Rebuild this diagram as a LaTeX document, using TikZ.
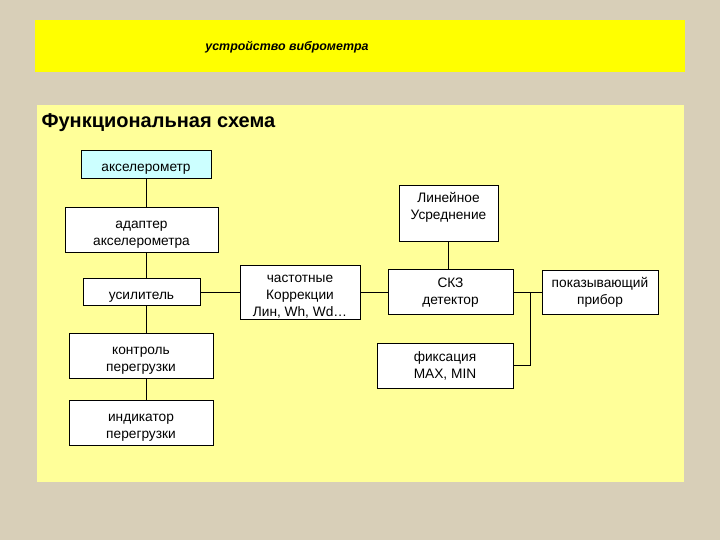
\documentclass[tikz,border=0pt]{standalone}
\usepackage{fontspec}
\setmainfont{Liberation Sans}
\usetikzlibrary{positioning}
\definecolor{bgbeige}{RGB}{216,207,184}
\definecolor{banneryellow}{RGB}{255,255,0}
\definecolor{panelyellow}{RGB}{255,255,153}
\definecolor{accelcyan}{RGB}{204,255,255}
\newcommand{\lowtext}[2][-4pt]{\raisebox{#1}[\height][\depth]{\begin{tabular}{@{}c@{}}#2\end{tabular}}}

\begin{document}
\begin{tikzpicture}[
    x=1pt, y=-1pt,
    font=\fontsize{13.7}{17}\selectfont,
    blk/.style={draw, fill=white, inner sep=0pt, line width=0.8pt},
    wire/.style={line width=0.8pt},
]
    % background and panels
    \fill[bgbeige] (0,0) rectangle (720,540);
    \fill[banneryellow] (35,20) rectangle (685,72);
    \fill[panelyellow] (37,105) rectangle (684,482);
    \node (banner) at (287,47) {\fontsize{12.4}{15}\selectfont\bfseries\itshape устройство виброметра};
    \node[anchor=west] (title) at (38,123) {\fontsize{20}{24}\selectfont\bfseries Функциональная схема};
    % left column
    \node[blk, fill=accelcyan, minimum width=130, minimum height=28] (accel) at (146,164) {\lowtext{акселерометр}};
    \node[blk, minimum width=153, minimum height=45] (adapter) at (141.5,229.5) {\lowtext{адаптер\\акселерометра}};
    \node[blk, minimum width=117, minimum height=27] (amp) at (141.5,292) {\lowtext{усилитель}};
    \node[blk, minimum width=144, minimum height=45] (ovlctrl) at (141,355.5) {\lowtext{контроль\\перегрузки}};
    \node[blk, minimum width=144, minimum height=45] (ovlind) at (141,422.5) {\lowtext{индикатор\\перегрузки}};
    % signal chain
    \node[blk, minimum width=120, minimum height=54] (freqcorr) at (300,292) {\lowtext{частотные\\Коррекции\\Лин, Wh, Wd…}};
    \node[blk, minimum width=99, minimum height=56] (linavg) at (448.5,213) {\lowtext[5pt]{Линейное\\Усреднение}};
    \node[blk, minimum width=125, minimum height=45] (rms) at (450.5,292) {\lowtext[-1pt]{СКЗ\\детектор}};
    \node[blk, minimum width=116, minimum height=44] (display) at (600,292) {\lowtext[-1pt]{показывающий\\прибор}};
    \node[blk, minimum width=136, minimum height=45] (hold) at (445,365.5) {\lowtext[-1pt]{фиксация\\MAX, MIN}};
    \coordinate (tap) at (530,292);
    % connections
    \draw[wire] (accel.south) -- (accel.south |- adapter.north);
    \draw[wire] (accel.south |- adapter.south) -- (accel.south |- amp.north);
    \draw[wire] (accel.south |- amp.south) -- (accel.south |- ovlctrl.north);
    \draw[wire] (accel.south |- ovlctrl.south) -- (accel.south |- ovlind.north);
    \draw[wire] (amp.east) -- (freqcorr.west);
    \draw[wire] (freqcorr.east) -- (rms.west);
    \draw[wire] (linavg.south) -- (linavg.south |- rms.north);
    \draw[wire] (rms.east) -- (display.west);
    \draw[wire] (tap) |- (hold.east);
\end{tikzpicture}
\end{document}
